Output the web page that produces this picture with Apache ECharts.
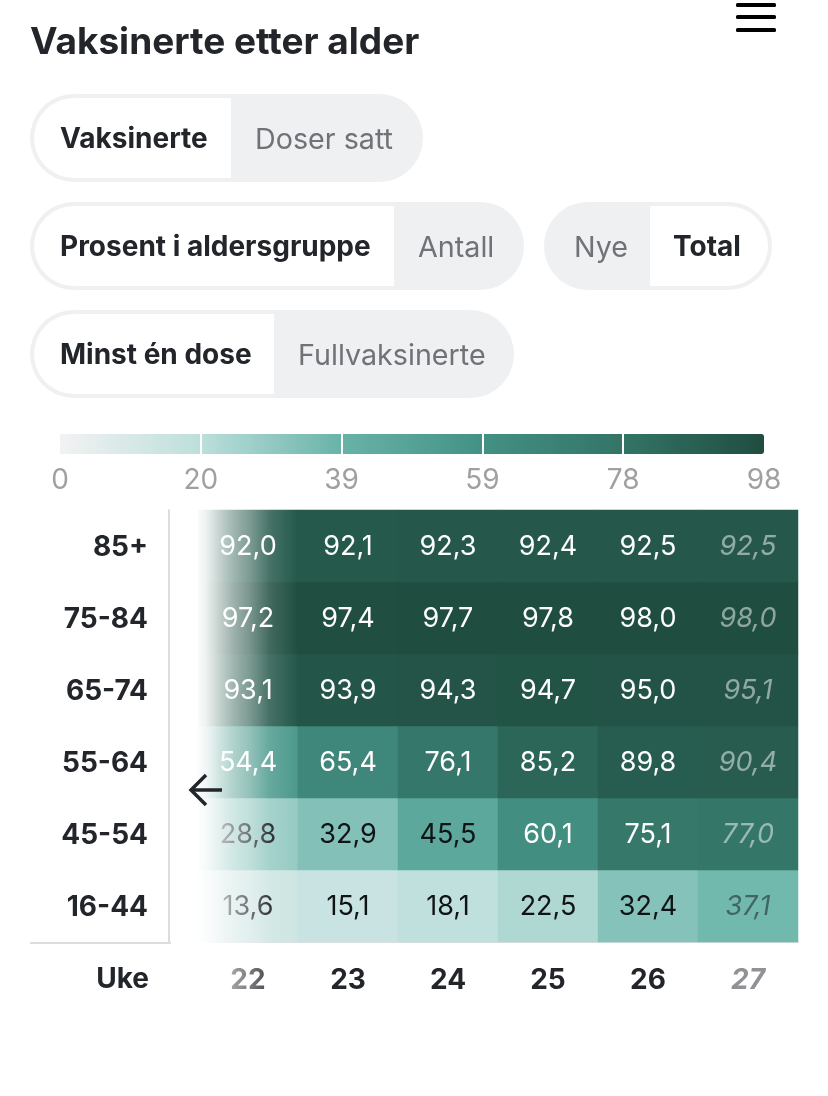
<!DOCTYPE html>
<html>
<head>
<meta charset="utf-8">
<style>
html, body { margin: 0; padding: 0; background: #fff; }
#chart { width: 828px; height: 1096px; }
</style>
<script src="https://cdn.jsdelivr.net/npm/echarts@6/dist/echarts.min.js"></script>
</head>
<body>
<div id="chart"></div>
<script>
var font = 'Inter';
var dark = '#22252a';
var paleGrey = '#eff0f2';
var weeks = ['22', '23', '24', '25', '26', '27'];
var ageGroups = ['16-44', '45-54', '55-64', '65-74', '75-84', '85+'];
var row85 = [92.0, 92.1, 92.3, 92.4, 92.5, 92.5];
var row75 = [97.2, 97.4, 97.7, 97.8, 98.0, 98.0];
var row65 = [93.1, 93.9, 94.3, 94.7, 95.0, 95.1];
var row55 = [54.4, 65.4, 76.1, 85.2, 89.8, 90.4];
var row45 = [28.8, 32.9, 45.5, 60.1, 75.1, 77.0];
var row16 = [13.6, 15.1, 18.1, 22.5, 32.4, 37.1];
var rows = [row16, row45, row55, row65, row75, row85];
var legendStops = [0, 19.6, 39.2, 58.8, 78.4, 98];
var legendColors = ['#f2f2f3', '#bcdfdb', '#68b3a8', '#439184', '#337466', '#1f4d40'];

var cells = [];
rows.forEach(function (row, r) {
    row.forEach(function (v, c) {
        var col = v > 50 ? '#ffffff' : '#111417';
        var last = c == weeks.length - 1;
        cells.push({
            value: [c, r, v],
            label: {
                color: col,
                fontStyle: last ? 'italic' : 'normal',
                opacity: last ? 0.5 : 1
            }
        });
    });
});

// one toggle: fill the whole pill grey, then lay the picked side on top in white
function pill(x, y, w, split, pickLeft, leftText, rightText, leftTextX, rightTextX) {
    var h = 88, b = 4, r = 44;
    var picked = pickLeft
        ? { x: x + b, y: y + b, width: split - x - b, height: h - 2 * b, r: [r - b, 0, 0, r - b] }
        : { x: split, y: y + b, width: x + w - b - split, height: h - 2 * b, r: [0, r - b, r - b, 0] };
    function label(t, tx, bold) {
        return {
            type: 'text', x: tx, y: y + h / 2 + 2,
            style: {
                text: t, font: (bold ? '700 28px ' : '400 28.7px ') + font,
                fill: bold ? dark : '#6f7277', verticalAlign: 'middle'
            }
        };
    }
    return [
        { type: 'rect', shape: { x: x, y: y, width: w, height: h, r: r }, style: { fill: paleGrey } },
        { type: 'rect', shape: picked, style: { fill: '#fff' } },
        label(leftText, leftTextX, pickLeft),
        label(rightText, rightTextX, !pickLeft)
    ];
}

var graphics = [
    { type: 'text', x: 30, y: 43, style: { text: 'Vaksinerte etter alder', font: '700 37px ' + font, fill: dark, verticalAlign: 'middle' } },
    { type: 'rect', shape: { x: 736, y: 3, width: 40, height: 4, r: 1.5 }, style: { fill: '#000' } },
    { type: 'rect', shape: { x: 736, y: 15, width: 40, height: 4, r: 1.5 }, style: { fill: '#000' } },
    { type: 'rect', shape: { x: 736, y: 28, width: 40, height: 4, r: 1.5 }, style: { fill: '#000' } },
    { type: 'text', x: 149, y: 980, style: { text: 'Uke', font: '700 28px ' + font, fill: dark, align: 'right', verticalAlign: 'middle' } },
    { type: 'line', shape: { x1: 30, y1: 943, x2: 198, y2: 943 }, style: { stroke: '#dddddd', lineWidth: 2 } },
    {
        type: 'rect', z: 100,
        shape: { x: 171, y: 508, width: 127, height: 500 },
        style: {
            fill: new echarts.graphic.LinearGradient(0, 0, 1, 0, [
                { offset: 0, color: 'rgba(255,255,255,1)' },
                { offset: 0.21, color: 'rgba(255,255,255,0.98)' },
                { offset: 0.27, color: 'rgba(255,255,255,0.93)' },
                { offset: 0.39, color: 'rgba(255,255,255,0.72)' },
                { offset: 0.5, color: 'rgba(255,255,255,0.55)' },
                { offset: 0.62, color: 'rgba(255,255,255,0.4)' },
                { offset: 0.78, color: 'rgba(255,255,255,0.15)' },
                { offset: 1, color: 'rgba(255,255,255,0)' }
            ])
        }
    },
    { type: 'polyline', z: 101, shape: { points: [[222, 790], [192, 790]] }, style: { stroke: dark, lineWidth: 3.5, fill: null } },
    { type: 'polyline', z: 101, shape: { points: [[206, 775], [191, 790], [206, 805]] }, style: { stroke: dark, lineWidth: 3.5, fill: null } }
].concat(
    pill(30, 94, 393, 231, true, 'Vaksinerte', 'Doser satt', 60, 255),
    pill(30, 202, 494, 394, true, 'Prosent i aldersgruppe', 'Antall', 60, 418),
    pill(544, 202, 228, 650, false, 'Nye', 'Total', 574, 673),
    pill(30, 310, 484, 274, true, 'Minst én dose', 'Fullvaksinerte', 60, 298)
);

var chart = echarts.init(document.getElementById('chart'));
chart.setOption({
    animation: false,
    backgroundColor: '#fff',
    textStyle: { fontFamily: font },
    grid: [
        { left: 198, top: 510, width: 600, height: 432 },
        { left: 60, top: 434, width: 704, height: 20 }
    ],
    xAxis: [
        {
            type: 'category', gridIndex: 0, data: weeks, position: 'bottom',
            axisLine: { show: true, lineStyle: { color: '#dddddd', width: 2 } },
            axisTick: { show: false },
            splitLine: { show: false },
            axisLabel: {
                margin: 25,
                formatter: function (w, i) {
                    return (w == '27' ? '{last|' : '{wk|') + w + '}';
                },
                rich: {
                    wk: { fontFamily: font, fontWeight: 700, fontSize: 28, color: dark },
                    last: { fontFamily: font, fontWeight: 700, fontSize: 28, fontStyle: 'italic', color: '#909296' }
                }
            }
        },
        {
            type: 'value', gridIndex: 1, min: 0, max: 98, position: 'bottom', z: 10,
            axisLine: { show: false },
            splitLine: { show: false },
            axisTick: {
                show: true, inside: true, length: 20,
                customValues: legendStops.slice(1, 5),
                lineStyle: { color: '#fff', width: 2 }
            },
            axisLabel: {
                show: true, margin: 13, fontFamily: font, fontSize: 28, color: '#a0a0a0',
                customValues: legendStops,
                formatter: function (v) { return Math.round(v); }
            }
        }
    ],
    yAxis: [
        {
            type: 'category', gridIndex: 0, data: ageGroups, offset: 29,
            axisLine: { show: true, onZero: false, lineStyle: { color: '#dddddd', width: 2 } },
            axisTick: { show: false },
            splitLine: { show: false },
            axisLabel: {
                margin: 21,
                formatter: function (a) { return '{age|' + a + '}'; },
                rich: { age: { color: dark, fontFamily: font, fontSize: 28, fontWeight: 700, padding: [4, 0, 0, 0] } }
            }
        },
        { type: 'value', gridIndex: 1, show: false }
    ],
    visualMap: {
        type: 'continuous', orient: 'horizontal', seriesIndex: 0, dimension: 2,
        min: 0, max: 98, calculable: false, realtime: false,
        left: 60, top: 434, itemWidth: 20, itemHeight: 704, padding: 0,
        text: null, showLabel: false,
        inRange: { color: legendColors }
    },
    series: [{
        type: 'heatmap', xAxisIndex: 0, yAxisIndex: 0, data: cells,
        label: {
            show: true, fontFamily: font, fontSize: 27, offset: [0, 1],
            formatter: function (p) { return p.value[2].toFixed(1).replace('.', ','); }
        },
        itemStyle: { borderWidth: 0 }
    }],
    graphic: { elements: graphics }
});
</script>
</body>
</html>
